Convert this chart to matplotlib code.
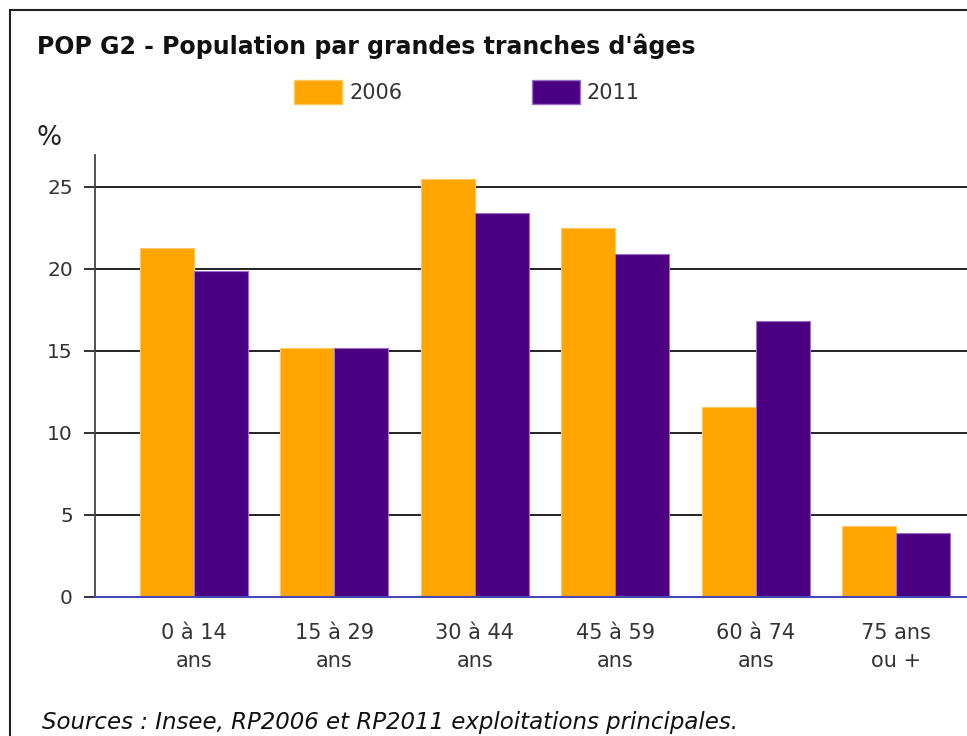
import numpy as np
import matplotlib
matplotlib.use("Agg")
import matplotlib.pyplot as plt
from matplotlib.patches import Patch, Rectangle

# --- Data ---
categories = ["0 à 14\nans", "15 à 29\nans", "30 à 44\nans",
              "45 à 59\nans", "60 à 74\nans", "75 ans\nou +"]
pop_2006 = [21.3, 15.2, 25.5, 22.5, 11.6, 4.3]
pop_2011 = [19.9, 15.2, 23.4, 20.9, 16.8, 3.9]
yticks = [0, 5, 10, 15, 20, 25]

ORANGE = "#FFA500"
PURPLE = "#4B0082"
TXT = "#333333"

plt.rcParams["font.family"] = ["DejaVu Sans"]

fig = plt.figure(figsize=(9.67, 7.36), dpi=100)
ax = fig.add_axes([95 / 967, 1 - 597 / 736, 1 - 95 / 967, (597 - 155) / 736])

x = np.arange(len(categories))
w = 0.385
ax.bar(x - w / 2, pop_2006, w, color=ORANGE, edgecolor="#FFC860", linewidth=0.8, zorder=3)
ax.bar(x + w / 2, pop_2011, w, color=PURPLE, edgecolor="#9A70C8", linewidth=0.8, zorder=3)

ax.set_xlim(-0.705, 5.505)
ax.set_ylim(0, 26.95)
ax.set_yticks(yticks)
ax.set_yticklabels([str(v) for v in yticks], fontsize=14.5, color=TXT)
ax.set_xticks(x)
ax.set_xticklabels(categories, fontsize=15, color=TXT, linespacing=1.45)
ax.tick_params(axis="x", length=0, pad=19)
ax.tick_params(axis="y", length=8, width=1.3, color="#222222", pad=8)

for v in yticks[1:]:
    ax.axhline(v, color="#111111", linewidth=1.3, zorder=1)

for s in ["top", "right"]:
    ax.spines[s].set_visible(False)
ax.spines["left"].set_color("#444444")
ax.spines["left"].set_linewidth(1.3)
ax.spines["bottom"].set_color("#4848B0")
ax.spines["bottom"].set_linewidth(1.5)
ax.spines["bottom"].set_zorder(4)

# frame around the chart
fig.patches.append(Rectangle((10 / 967, -0.1), 1.0, 1.1 - 10 / 736, transform=fig.transFigure,
                             fill=False, edgecolor="#222222", linewidth=1.5))

fig.text(37 / 967, 1 - 46 / 736, "POP G2 - Population par grandes tranches d'âges",
         fontsize=17, fontweight="bold", color="#111111", va="center")
fig.text(37 / 967, 1 - 138 / 736, "%", fontsize=19, color="#222222", va="center")

handles = [Patch(facecolor=ORANGE, edgecolor="#FFC860", label="2006"),
           Patch(facecolor=PURPLE, edgecolor="#9A70C8", label="2011")]
fig.legend(handles=handles, loc="center", bbox_to_anchor=(467 / 967, 1 - 92 / 736), ncol=2,
           frameon=False, fontsize=15, handlelength=2.3, handleheight=1.4,
           handletextpad=0.35, columnspacing=6.2, labelcolor=TXT)

fig.text(42 / 967, 7 / 736, "Sources : Insee, RP2006 et RP2011 exploitations principales.",
         fontsize=16.5, fontstyle="italic", color="#111111", va="baseline")

fig.savefig("out.png", dpi=100)
